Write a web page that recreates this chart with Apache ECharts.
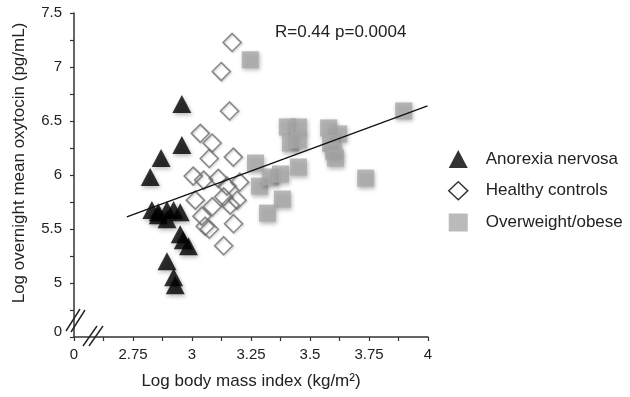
<!DOCTYPE html>
<html><head><meta charset="utf-8">
<script src="https://cdn.jsdelivr.net/npm/echarts@6/dist/echarts.min.js"></script>
<style>html,body{margin:0;padding:0;background:#fff}#c{width:630px;height:397px}</style>
</head><body><div id="c"></div><script>
// Anorexia nervosa (log BMI, log oxytocin)
const anorexiaX = [2.957, 2.957, 2.869, 2.823, 2.830, 2.857, 2.894, 2.922, 2.950, 2.894, 2.857, 2.950, 2.963, 2.985, 2.894, 2.922, 2.929];
const anorexiaY = [6.658, 6.278, 6.157, 5.981, 5.675, 5.656, 5.675, 5.675, 5.656, 5.591, 5.628, 5.452, 5.396, 5.341, 5.201, 5.053, 4.979];
// Healthy controls
const healthyX = [3.170, 3.124, 3.159, 3.035, 3.085, 3.073, 3.175, 3.005, 3.049, 3.111, 3.148, 3.202, 3.014, 3.086, 3.134, 3.162, 3.191, 3.042, 3.056, 3.073, 3.176, 3.134];
const healthyY = [7.227, 6.958, 6.593, 6.386, 6.296, 6.153, 6.166, 5.990, 5.953, 5.969, 5.897, 5.934, 5.767, 5.707, 5.798, 5.721, 5.767, 5.619, 5.526, 5.498, 5.549, 5.345];
// Overweight/obese
const obeseX = [3.247, 3.269, 3.286, 3.332, 3.375, 3.383, 3.320, 3.404, 3.451, 3.417, 3.451, 3.451, 3.579, 3.621, 3.587, 3.600, 3.608, 3.736, 3.897];
const obeseY = [7.067, 6.111, 5.897, 5.981, 6.009, 5.777, 5.647, 6.445, 6.445, 6.296, 6.324, 6.074, 6.436, 6.380, 6.296, 6.222, 6.157, 5.972, 6.593];
// Regression line end points
const fitX = [2.724, 3.998];
const fitY = [5.612, 6.640];
// Axis settings / labels
const xTickLabels = ['2.75', '3', '3.25', '3.5', '3.75', '4'];
const yTickLabels = ['5', '5.5', '6', '6.5', '7', '7.5'];
const statText = 'R=0.44 p=0.0004';
const names = ['Anorexia nervosa', 'Healthy controls', 'Overweight/obese'];

const zip = (a, b) => a.map((v, i) => [v, b[i]]);
const FONT = 'Liberation Sans, Arial, sans-serif';
const chart = echarts.init(document.getElementById('c'), null, {renderer: 'canvas'});
const shadow = {shadowBlur: 4, shadowColor: 'rgba(0,0,0,0.35)', shadowOffsetX: 1, shadowOffsetY: 2};

chart.setOption({
  animation: false,
  backgroundColor: '#fff',
  textStyle: {fontFamily: FONT},
  grid: {left: 74, right: 202, top: 13, bottom: 60, containLabel: false},
  xAxis: {
    type: 'value', min: 2.5, max: 4, interval: 0.125,
    name: 'Log body mass index (kg/m²)', nameLocation: 'middle', nameGap: 36,
    nameTextStyle: {fontSize: 17, color: '#222', fontFamily: FONT},
    axisLine: {onZero: false, lineStyle: {color: '#333', width: 1.5}},
    axisTick: {show: true, length: 4, lineStyle: {color: '#333', width: 1.2}},
    splitLine: {show: false},
    axisLabel: {
      fontSize: 15, color: '#222', margin: 10, fontFamily: FONT,
      formatter: v => {
        if (Math.abs(v - 2.5) < 1e-6) return '0';
        const s = String(+v.toFixed(3));
        return xTickLabels.includes(s) ? s : '';
      }
    }
  },
  yAxis: {
    type: 'value', min: 4.5, max: 7.5, interval: 0.25,
    name: 'Log overnight mean oxytocin (pg/mL)', nameLocation: 'middle', nameGap: 46,
    nameTextStyle: {fontSize: 17, color: '#222', fontFamily: FONT, padding: [0, 0, 0, 24]},
    axisLine: {onZero: false, lineStyle: {color: '#333', width: 1.5}},
    axisTick: {show: true, length: 4, lineStyle: {color: '#333', width: 1.2}},
    splitLine: {show: false},
    axisLabel: {
      fontSize: 15, color: '#222', margin: 12, fontFamily: FONT,
      rich: {z: {fontSize: 15, color: '#222', fontFamily: FONT, padding: [0, 0, 10, 0]}},
      formatter: v => {
        if (Math.abs(v - 4.5) < 1e-6) return '{z|0}';
        const s = String(+v.toFixed(3));
        return yTickLabels.includes(s) ? s : '';
      }
    }
  },
  legend: {
    orient: 'vertical', left: 443, top: 145, itemWidth: 19, itemHeight: 18, itemGap: 13,
    textStyle: {fontSize: 17, color: '#222', fontFamily: FONT, padding: [0, 0, 0, 13]},
    data: [
      {name: names[0], icon: 'triangle'},
      {name: names[1], icon: 'diamond', itemStyle: {color: '#fff', borderColor: '#000', borderWidth: 1.5}},
      {name: names[2], icon: 'rect'}
    ]
  },
  series: [
    {
      name: names[1], type: 'scatter', z: 2, symbol: 'diamond', symbolSize: 18,
      data: zip(healthyX, healthyY),
      itemStyle: Object.assign({color: 'rgba(255,255,255,0)', borderColor: '#707070', borderWidth: 1.6}, {shadowBlur: 2, shadowColor: 'rgba(0,0,0,0.25)', shadowOffsetX: 1, shadowOffsetY: 1})
    },
    {
      name: names[2], type: 'scatter', z: 3, symbol: 'rect', symbolSize: 17,
      data: zip(obeseX, obeseY),
      itemStyle: Object.assign({color: '#a9a9a9'}, shadow)
    },
    {
      name: names[0], type: 'scatter', z: 4, symbol: 'triangle', symbolSize: [19, 18],
      data: zip(anorexiaX, anorexiaY),
      itemStyle: Object.assign({color: '#000'}, shadow)
    },
    {
      name: 'fit', type: 'line', z: 5, symbol: 'none', silent: true,
      data: zip(fitX, fitY),
      lineStyle: {color: '#111', width: 1.3}
    }
  ]
});

// axis break marks and stat annotation
const o = chart.convertToPixel({gridIndex: 0}, [2.5, 4.5]);
const seg = (x1, y1, x2, y2) => ({type: 'line', z: 10, shape: {x1: o[0] + x1, y1: o[1] + y1, x2: o[0] + x2, y2: o[1] + y2}, style: {stroke: '#222', lineWidth: 1.4}});
const tp = chart.convertToPixel({gridIndex: 0}, [3.63, 7.32]);
chart.setOption({
  graphic: [
    seg(-8, -6, 6, -28), seg(-3, -5, 11, -27),
    seg(9, 9, 23, -11), seg(15, 9, 29, -11),
    {type: 'text', z: 10, x: tp[0], y: tp[1], style: {text: statText, font: '17px ' + FONT, fill: '#222', textAlign: 'center', textVerticalAlign: 'middle'}}
  ]
});
</script></body></html>
